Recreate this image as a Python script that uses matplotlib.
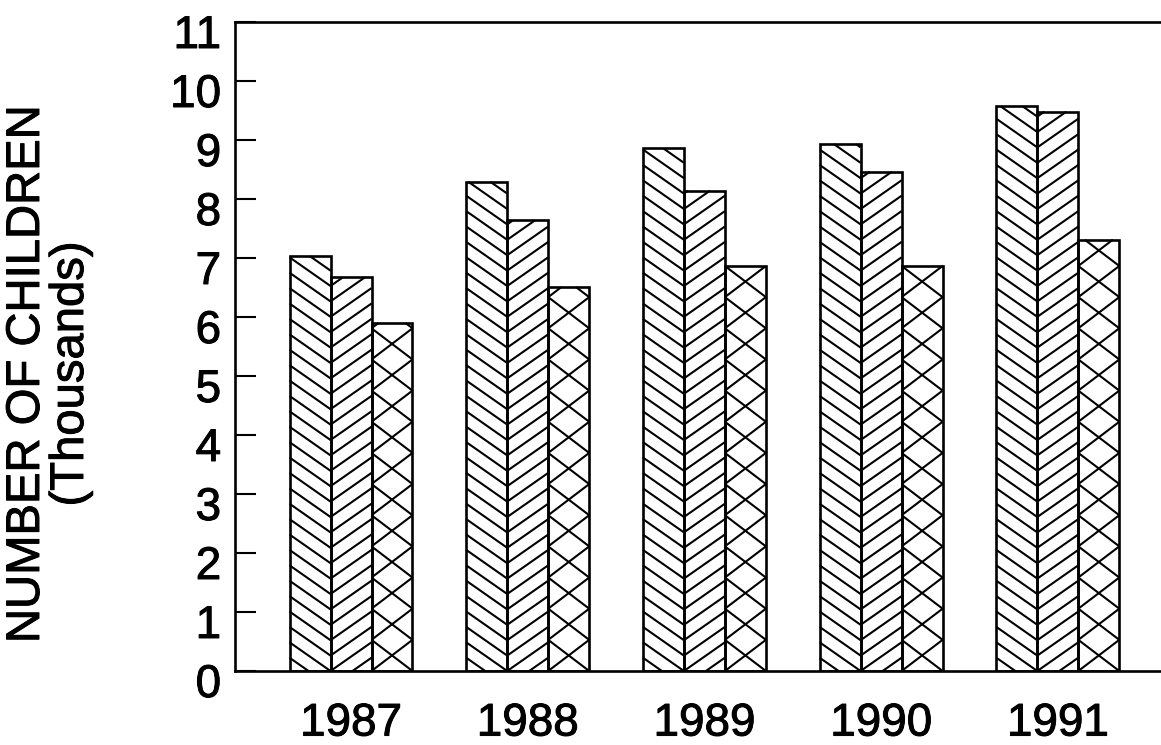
import numpy as np
import matplotlib
matplotlib.use('Agg')
import matplotlib.pyplot as plt
import matplotlib.patheffects as pe
from matplotlib.collections import LineCollection
from matplotlib.transforms import ScaledTranslation

years = ['1987', '1988', '1989', '1990', '1991']
series_a = [7.03, 8.29, 8.86, 8.93, 9.57]
series_b = [6.67, 7.64, 8.14, 8.46, 9.48]
series_c = [5.90, 6.51, 6.86, 6.87, 7.31]
y_ticks = list(range(0, 12))
y_label_1 = 'NUMBER OF CHILDREN'
y_label_2 = '(Thousands)'

plt.rcParams['font.family'] = ['Liberation Sans', 'DejaVu Sans']
W, H = 1161, 745
fig = plt.figure(figsize=(W / 100, H / 100), dpi=100)
ax = fig.add_axes([235 / W, 1 - 671 / H, 1 - 235 / W, (671 - 22) / H])

x = np.arange(len(years))
bw = 0.232
ax.set_xlim(-0.6565, 4.584)
ax.set_ylim(0, 11)

kw = dict(facecolor='none', edgecolor='black', linewidth=1.9, zorder=3)
bars_a = ax.bar(x - bw, series_a, bw, **kw)
bars_b = ax.bar(x, series_b, bw, **kw)
bars_c = ax.bar(x + bw, series_c, bw, **kw)


def clip_seg(p, q, ylo, yhi):
    (xa, ya), (xb, yb) = p, q
    t0, t1 = 0.0, 1.0
    dy = yb - ya
    if dy != 0:
        ta = (ylo - ya) / dy
        tb = (yhi - ya) / dy
        lo, hi = min(ta, tb), max(ta, tb)
        t0, t1 = max(t0, lo), min(t1, hi)
    if t1 <= t0:
        return None
    return [(xa + (xb - xa) * t0, ya + dy * t0), (xa + (xb - xa) * t1, ya + dy * t1)]


def add_hatch(bar, kinds, sp, slope):
    t = ax.transData
    x0, y0 = t.transform((bar.get_x(), 0))
    x1, y1 = t.transform((bar.get_x() + bar.get_width(), bar.get_height()))
    w = x1 - x0
    h = y1 - y0
    segs = []
    for kind in kinds:
        kmin = -int(np.ceil(slope * w / sp)) - 1
        kmax = int(np.ceil(h / sp)) + 1
        for k in range(kmin, kmax + 1):
            if kind == '/':
                p = [(x0, y0 + k * sp), (x1, y0 + k * sp + slope * w)]
            else:
                p = [(x0, y0 + k * sp + slope * w), (x1, y0 + k * sp)]
            c = clip_seg(p[0], p[1], y0, y1)
            if c is not None:
                segs.append(t.inverted().transform(np.array(c)))
    lc = LineCollection(segs, colors='black', linewidths=1.5,
                        transform=ax.transData, zorder=2)
    ax.add_collection(lc)


for b in bars_a:
    add_hatch(b, ['\\'], 15.4, 0.70)
for b in bars_b:
    add_hatch(b, ['/'], 15.4, 0.70)
for b in bars_c:
    wpx = ax.transData.transform((b.get_width(), 0))[0] - ax.transData.transform((0, 0))[0]
    add_hatch(b, ['/', '\\'], 0.76 * wpx, 0.76)

stroke = [pe.withStroke(linewidth=0.7, foreground='black')]
ax.set_xticks(x)
ax.set_xticklabels(years, fontsize=33)
ax.set_yticks(y_ticks)
ax.set_yticklabels([str(v) for v in y_ticks], fontsize=33)
ax.tick_params(axis='x', length=0, pad=22)
ax.tick_params(axis='y', direction='in', length=15, width=1.5, pad=10)
off = ScaledTranslation(0, -9 / 100, fig.dpi_scale_trans)
for lab in ax.get_yticklabels():
    lab.set_transform(lab.get_transform() + off)
    lab.set_path_effects(stroke)
for lab in ax.get_xticklabels():
    lab.set_path_effects(stroke)

for s in ['left', 'bottom', 'top']:
    ax.spines[s].set_linewidth(1.9)
ax.spines['right'].set_visible(False)

fig.text(27 / W, 1 - 374 / H, y_label_1, rotation=90, ha='center', va='center',
         fontsize=34, path_effects=stroke)
fig.text(71 / W, 1 - 374 / H, y_label_2, rotation=90, ha='center', va='center',
         fontsize=34, path_effects=stroke)

fig.savefig('out.png', dpi=100, facecolor='white')
